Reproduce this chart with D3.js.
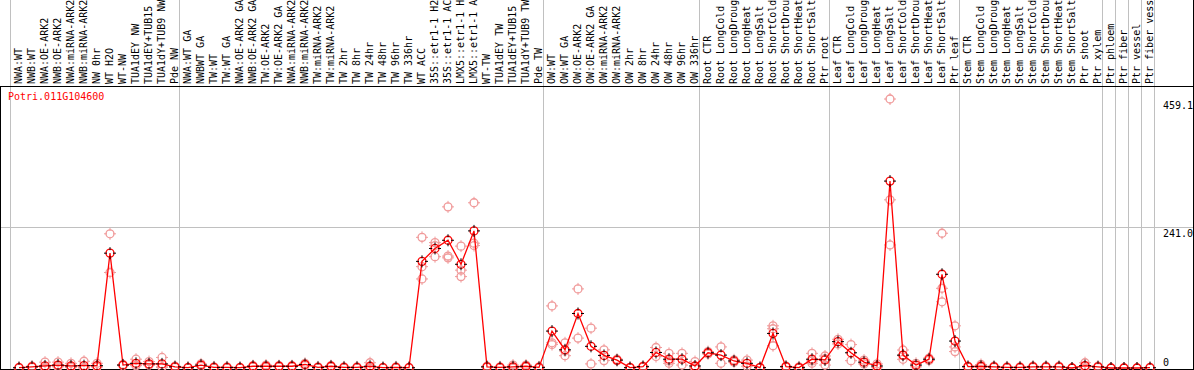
<!DOCTYPE html>
<html>
<head>
<meta charset="utf-8">
<script src="https://cdn.jsdelivr.net/npm/d3@7"></script>
<style>
body { margin: 0; background: #fff; }
svg { display: block; font-family: "DejaVu Sans Mono", monospace; font-size: 10px; }
</style>
</head>
<body>
<div id="chart"></div>
<script>
var gene = "Potri.011G104600";

var samples = [
    "NWA:WT", "NWB:WT", "NWA:OE-ARK2", "NWB:OE-ARK2", "NWA:miRNA-ARK2", "NWB:miRNA-ARK2",
    "NW 0hr", "WT H2O", "WT-NW", "TUA1dEY NW", "TUA1dEY+TUB15 NW", "TUA1dY+TUB9 NW", "Pde NW",
    "NWA:WT GA", "NWBWT GA", "TW:WT", "TW:WT GA", "NWA:OE-ARK2 GA", "NWB:OE-ARK2 GA",
    "TW:OE-ARK2", "TW:OE-ARK2 GA", "NWA:miRNA-ARK2", "NWB:miRNA-ARK2", "TW:miRNA-ARK2",
    "TW:miRNA-ARK2", "TW 2hr", "TW 8hr", "TW 24hr", "TW 48hr", "TW 96hr", "TW 336hr",
    "WT ACC", "35S::etr1-1 H2O", "35S::etr1-1 ACC", "LMX5::etr1-1 H2O", "LMX5::etr1-1 ACC",
    "WT-TW", "TUA1dEY TW", "TUA1dEY+TUB15 TW", "TUA1dY+TUB9 TW", "Pde TW",
    "OW:WT", "OW:WT GA", "OW:OE-ARK2", "OW:OE-ARK2 GA", "OW:miRNA-ARK2", "OW:miRNA-ARK2",
    "OW 2hr", "OW 8hr", "OW 24hr", "OW 48hr", "OW 96hr", "OW 336hr",
    "Root CTR", "Root LongCold", "Root LongDrought", "Root LongHeat", "Root LongSalt",
    "Root ShortCold", "Root ShortDrought", "Root ShortHeat", "Root ShortSalt", "Ptr root",
    "Leaf CTR", "Leaf LongCold", "Leaf LongDrought", "Leaf LongHeat", "Leaf LongSalt",
    "Leaf ShortCold", "Leaf ShortDrought", "Leaf ShortHeat", "Leaf ShortSalt", "Ptr leaf",
    "Stem CTR", "Stem LongCold", "Stem LongDrought", "Stem LongHeat", "Stem LongSalt",
    "Stem ShortCold", "Stem ShortDrought", "Stem ShortHeat", "Stem ShortSalt", "Ptr shoot",
    "Ptr xylem", "Ptr phloem", "Ptr fiber", "Ptr vessel", "Ptr fiber vessel"
];

// gray separators go before column 0 and after these column counts
var groupEnds = [13, 41, 53, 63, 73, 84, 85, 86, 87, 88];

// mean expression per sample
var means = [
    0.5, 2, 3.5, 5, 3.5, 4, 4, 196, 5, 8, 7, 7, 2,
    0.5, 5, 1, 1, 0.5, 3, 3, 3, 3, 6, 1, 3, 1, 1, 3, 0.5, 1, 0.5,
    182, 204, 218, 177, 234, 2, 1, 2, 3, 1,
    63, 31, 93, 37, 21.5, 13.5, 0.6, 2.3, 26.5, 15, 15, 3.4,
    26, 22, 12, 8, 0.6, 59, 2.3, 0.6, 15, 13.8,
    45, 26, 10, 3.4, 319, 22, 5, 15, 160, 46,
    2.3, 3, 2, 1, 1, 2, 2, 2, 0, 4, 2,
    0, 0, 0, 0.5
];

// individual replicates per sample
var reps = [
    [0, 1], [1, 3], [10, 0.5, 0], [10, 3, 2], [8, 1.5, 1], [11.5, 0.5, 0], [8, 2, 2],
    [229, 163], [6, 4], [15, 5, 4], [11, 5, 5], [18, 2, 1], [3, 1],
    [1, 0], [7, 3], [2, 0], [2, 0], [1, 0], [4, 2], [5, 1], [4, 2], [4, 2], [8, 4],
    [2, 0], [4, 2], [2, 0], [2, 0], [9, 0, 0], [1, 0], [2, 0], [1, 0],
    [223, 173, 152], [214, 209, 190], [275, 191, 188], [208, 167, 156], [282, 213, 209],
    [3, 1], [2, 0], [5, 1, 0], [5, 2, 2], [2, 0],
    [106, 43, 40], [43, 21, 29], [135, 51], [68, 7], [31, 12.6], [15, 12.5],
    [1, 0.2], [3, 1.5], [35, 19.5], [25, 8, 12], [25, 5], [11, 0, 0],
    [28, 24], [36, 8], [14, 10], [13.5, 3], [1, 0.2], [72, 38, 67], [3, 1.5], [2, 0],
    [25, 8, 12], [20.5, 5, 16],
    [49, 41], [40, 12.5], [13.5, 7], [7, 0.5], [459.1, 287, 210], [30.7, 14.8, 21],
    [8, 2], [17, 13], [230, 136, 113], [72, 36, 28],
    [3, 1.5], [6, 1, 2], [3, 1], [2, 0], [2, 0], [3, 1], [3, 1], [3, 1], [0, 0],
    [9, 0, 3], [3, 1],
    [0, 0], [0, 0], [0, 0], [1, 0]
];

var yTicks = [0, 241.0, 459.1];
var yTickLabels = ["0", "241.0", "459.1"];
var yGrid = [241.0];

var W = 1194, H = 370;
var plotTop = 86, plotBottom = 369, plotRight = 1193;

var svg = d3.select("#chart").append("svg")
    .attr("width", W)
    .attr("height", H);

// one band per sample, 13px wide
var x = d3.scaleBand()
    .domain(d3.range(samples.length))
    .range([10, 10 + 13 * samples.length])
    .paddingInner(0)
    .paddingOuter(0);

var y = d3.scaleLinear()
    .domain([0, 459.1])
    .range([368, 99]);

var px = (i) => x(i) + 9;          // marker position inside the band
var edge = (n) => Math.round(x.range()[0] + n * x.step()) + 0.5;

// vertical gray separators, running through the label area
svg.append("g")
    .selectAll("line")
    .data([0].concat(groupEnds))
    .enter().append("line")
    .attr("x1", edge).attr("x2", edge)
    .attr("y1", 0).attr("y2", plotBottom)
    .attr("stroke", "#c0c0c0");

// horizontal grid line(s)
svg.append("g")
    .selectAll("line")
    .data(yGrid)
    .enter().append("line")
    .attr("x1", 0).attr("x2", plotRight)
    .attr("y1", d => Math.round(y(d)) + 0.5)
    .attr("y2", d => Math.round(y(d)) + 0.5)
    .attr("stroke", "#c0c0c0");

// black frame
svg.append("line").attr("x1", 0).attr("x2", W).attr("y1", plotTop + 0.5).attr("y2", plotTop + 0.5).attr("stroke", "#000");
svg.append("line").attr("x1", 0).attr("x2", W).attr("y1", plotBottom + 0.5).attr("y2", plotBottom + 0.5).attr("stroke", "#000");
svg.append("line").attr("x1", 0.5).attr("x2", 0.5).attr("y1", plotTop).attr("y2", H).attr("stroke", "#000");
svg.append("line").attr("x1", plotRight + 0.5).attr("x2", plotRight + 0.5).attr("y1", 0).attr("y2", H).attr("stroke", "#000");

// sample names, rotated to read bottom-up
svg.append("g")
    .selectAll("text")
    .data(samples)
    .enter().append("text")
    .attr("transform", (d, i) => "translate(" + (x(i) + 12) + "," + (plotTop - 2) + ") rotate(-90)")
    .attr("fill", "#000")
    .text(d => d);

// gene name
svg.append("text")
    .attr("x", 8)
    .attr("y", plotTop + 14)
    .attr("fill", "#ff0000")
    .text(gene);

// right side value labels
svg.append("g")
    .selectAll("text")
    .data(yTicks)
    .enter().append("text")
    .attr("x", 1163)
    .attr("y", d => Math.min(y(d) + 10, 366))
    .attr("fill", "#000")
    .text((d, i) => yTickLabels[i]);

// marker = ring with little cross ticks
function marker(g, stroke, tick) {
    g.append("circle")
        .attr("r", 4)
        .attr("fill", "none")
        .attr("stroke", stroke)
        .attr("stroke-width", 1.3);
    g.append("path")
        .attr("d", "M0,-6V-3M0,3V6M-6,0H-3M3,0H6")
        .attr("stroke", tick)
        .attr("stroke-width", 1);
}

// replicates first so the mean sits on top
var repPts = [];
reps.forEach((r, i) => r.forEach(v => repPts.push({ i: i, v: v })));

svg.append("g")
    .selectAll("g")
    .data(repPts)
    .enter().append("g")
    .attr("transform", d => "translate(" + px(d.i) + "," + y(d.v) + ")")
    .each(function() { marker(d3.select(this), "#f09a9a", "#f09a9a"); });

// mean line
var line = d3.line()
    .x((d, i) => px(i))
    .y(d => y(d));

svg.append("path")
    .datum(means)
    .attr("d", line)
    .attr("fill", "none")
    .attr("stroke", "#ff0000")
    .attr("stroke-width", 1.3);

svg.append("g")
    .selectAll("g")
    .data(means)
    .enter().append("g")
    .attr("transform", (d, i) => "translate(" + px(i) + "," + y(d) + ")")
    .each(function() { marker(d3.select(this), "#ff0000", "#000"); });
</script>
</body>
</html>
